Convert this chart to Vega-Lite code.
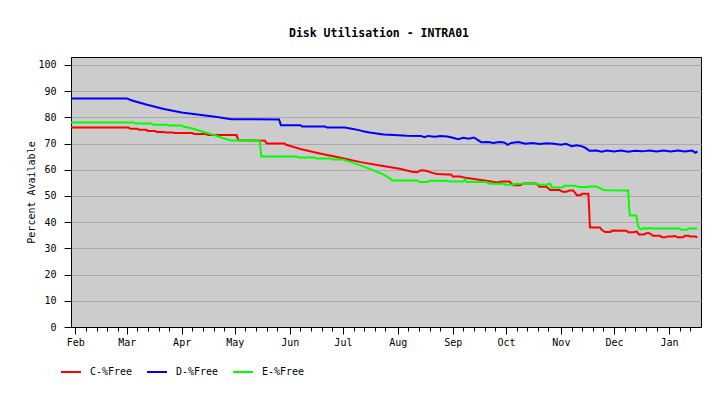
{
"$schema": "https://vega.github.io/schema/vega-lite/v6.json",
"width": 630, "height": 270,
"autosize": {"type": "none"},
"padding": {"left": 71, "top": 57, "right": 20, "bottom": 69},
"background": "white",
"title": {"text": "Disk Utilisation - INTRA01", "font": "DejaVu Sans Mono", "fontSize": 11.5, "fontWeight": "bold", "color": "black", "offset": 18, "dx": -7, "anchor": "middle"},
"config": {"view": {"fill": "#cccccc", "stroke": "black", "strokeWidth": 1}},
"data": {"values": [
{"date":"2004-01-29","series":"C","value":76.1},
{"date":"2004-03-02","series":"C","value":76.1},
{"date":"2004-03-03","series":"C","value":75.6},
{"date":"2004-03-07","series":"C","value":75.6},
{"date":"2004-03-08","series":"C","value":75.2},
{"date":"2004-03-12","series":"C","value":75.2},
{"date":"2004-03-13","series":"C","value":74.8},
{"date":"2004-03-17","series":"C","value":74.8},
{"date":"2004-03-18","series":"C","value":74.4},
{"date":"2004-03-22","series":"C","value":74.4},
{"date":"2004-03-23","series":"C","value":74.2},
{"date":"2004-03-27","series":"C","value":74.2},
{"date":"2004-03-28","series":"C","value":74.0},
{"date":"2004-04-07","series":"C","value":74.0},
{"date":"2004-04-08","series":"C","value":73.6},
{"date":"2004-04-15","series":"C","value":73.6},
{"date":"2004-04-16","series":"C","value":73.2},
{"date":"2004-05-02","series":"C","value":73.2},
{"date":"2004-05-03","series":"C","value":71.2},
{"date":"2004-05-18","series":"C","value":71.1},
{"date":"2004-05-19","series":"C","value":70.0},
{"date":"2004-05-29","series":"C","value":70.0},
{"date":"2004-05-30","series":"C","value":69.5},
{"date":"2004-06-07","series":"C","value":67.9},
{"date":"2004-06-18","series":"C","value":66.2},
{"date":"2004-06-29","series":"C","value":64.7},
{"date":"2004-07-11","series":"C","value":62.9},
{"date":"2004-07-22","series":"C","value":61.6},
{"date":"2004-08-02","series":"C","value":60.4},
{"date":"2004-08-09","series":"C","value":59.2},
{"date":"2004-08-12","series":"C","value":59.0},
{"date":"2004-08-14","series":"C","value":59.8},
{"date":"2004-08-17","series":"C","value":59.6},
{"date":"2004-08-20","series":"C","value":58.9},
{"date":"2004-08-23","series":"C","value":58.4},
{"date":"2004-08-29","series":"C","value":58.2},
{"date":"2004-08-31","series":"C","value":58.2},
{"date":"2004-09-01","series":"C","value":57.4},
{"date":"2004-09-05","series":"C","value":57.4},
{"date":"2004-09-09","series":"C","value":56.8},
{"date":"2004-09-16","series":"C","value":56.2},
{"date":"2004-09-20","series":"C","value":55.8},
{"date":"2004-09-26","series":"C","value":55.1},
{"date":"2004-09-29","series":"C","value":55.5},
{"date":"2004-10-03","series":"C","value":55.5},
{"date":"2004-10-05","series":"C","value":54.1},
{"date":"2004-10-09","series":"C","value":54.1},
{"date":"2004-10-11","series":"C","value":54.7},
{"date":"2004-10-18","series":"C","value":54.7},
{"date":"2004-10-20","series":"C","value":53.5},
{"date":"2004-10-24","series":"C","value":53.5},
{"date":"2004-10-26","series":"C","value":52.3},
{"date":"2004-10-31","series":"C","value":52.3},
{"date":"2004-11-02","series":"C","value":51.6},
{"date":"2004-11-04","series":"C","value":51.6},
{"date":"2004-11-06","series":"C","value":52.1},
{"date":"2004-11-08","series":"C","value":52.1},
{"date":"2004-11-10","series":"C","value":50.3},
{"date":"2004-11-12","series":"C","value":50.3},
{"date":"2004-11-13","series":"C","value":50.8},
{"date":"2004-11-16T12:00:00Z","series":"C","value":50.8},
{"date":"2004-11-17","series":"C","value":44.3},
{"date":"2004-11-17T09:36:00Z","series":"C","value":38.0},
{"date":"2004-11-23","series":"C","value":38.0},
{"date":"2004-11-24","series":"C","value":37.1},
{"date":"2004-11-26","series":"C","value":36.2},
{"date":"2004-11-29","series":"C","value":36.2},
{"date":"2004-11-30","series":"C","value":36.8},
{"date":"2004-12-08","series":"C","value":36.7},
{"date":"2004-12-09","series":"C","value":36.1},
{"date":"2004-12-12","series":"C","value":36.1},
{"date":"2004-12-13","series":"C","value":36.3},
{"date":"2004-12-14","series":"C","value":36.3},
{"date":"2004-12-15","series":"C","value":35.3},
{"date":"2004-12-18","series":"C","value":35.3},
{"date":"2004-12-19","series":"C","value":35.8},
{"date":"2004-12-21","series":"C","value":35.8},
{"date":"2004-12-22","series":"C","value":35.3},
{"date":"2004-12-23","series":"C","value":34.8},
{"date":"2004-12-27","series":"C","value":34.8},
{"date":"2004-12-28","series":"C","value":34.2},
{"date":"2004-12-30","series":"C","value":34.2},
{"date":"2004-12-31","series":"C","value":34.5},
{"date":"2005-01-03","series":"C","value":34.5},
{"date":"2005-01-04","series":"C","value":34.8},
{"date":"2005-01-06","series":"C","value":34.2},
{"date":"2005-01-09","series":"C","value":34.2},
{"date":"2005-01-10","series":"C","value":34.8},
{"date":"2005-01-12","series":"C","value":34.8},
{"date":"2005-01-13","series":"C","value":34.5},
{"date":"2005-01-16","series":"C","value":34.5},
{"date":"2005-01-17","series":"C","value":34.2},
{"date":"2004-01-29","series":"D","value":87.2},
{"date":"2004-03-01","series":"D","value":87.2},
{"date":"2004-03-04","series":"D","value":86.4},
{"date":"2004-03-12","series":"D","value":84.9},
{"date":"2004-03-22","series":"D","value":83.2},
{"date":"2004-04-01","series":"D","value":81.8},
{"date":"2004-04-11","series":"D","value":81.0},
{"date":"2004-04-21","series":"D","value":80.1},
{"date":"2004-04-29","series":"D","value":79.3},
{"date":"2004-05-26","series":"D","value":79.2},
{"date":"2004-05-27","series":"D","value":77.0},
{"date":"2004-06-07","series":"D","value":77.0},
{"date":"2004-06-08","series":"D","value":76.5},
{"date":"2004-06-21","series":"D","value":76.5},
{"date":"2004-06-22","series":"D","value":76.1},
{"date":"2004-07-02","series":"D","value":76.1},
{"date":"2004-07-06","series":"D","value":75.6},
{"date":"2004-07-10","series":"D","value":75.1},
{"date":"2004-07-13","series":"D","value":74.6},
{"date":"2004-07-16","series":"D","value":74.2},
{"date":"2004-07-20","series":"D","value":73.8},
{"date":"2004-07-24","series":"D","value":73.4},
{"date":"2004-07-30","series":"D","value":73.2},
{"date":"2004-08-06","series":"D","value":73.0},
{"date":"2004-08-14","series":"D","value":72.9},
{"date":"2004-08-16","series":"D","value":72.4},
{"date":"2004-08-18","series":"D","value":72.9},
{"date":"2004-08-22","series":"D","value":72.6},
{"date":"2004-08-25","series":"D","value":72.9},
{"date":"2004-08-29","series":"D","value":72.7},
{"date":"2004-09-01","series":"D","value":72.2},
{"date":"2004-09-04","series":"D","value":71.6},
{"date":"2004-09-07","series":"D","value":72.2},
{"date":"2004-09-10","series":"D","value":71.8},
{"date":"2004-09-13","series":"D","value":72.3},
{"date":"2004-09-15","series":"D","value":71.4},
{"date":"2004-09-17","series":"D","value":70.5},
{"date":"2004-09-21","series":"D","value":70.6},
{"date":"2004-09-24","series":"D","value":70.2},
{"date":"2004-09-27","series":"D","value":70.6},
{"date":"2004-09-30","series":"D","value":70.4},
{"date":"2004-10-02","series":"D","value":69.5},
{"date":"2004-10-04","series":"D","value":70.2},
{"date":"2004-10-08","series":"D","value":70.6},
{"date":"2004-10-12","series":"D","value":69.9},
{"date":"2004-10-16","series":"D","value":70.2},
{"date":"2004-10-20","series":"D","value":69.8},
{"date":"2004-10-24","series":"D","value":70.1},
{"date":"2004-10-28","series":"D","value":69.9},
{"date":"2004-11-01","series":"D","value":69.5},
{"date":"2004-11-04","series":"D","value":69.9},
{"date":"2004-11-07","series":"D","value":69.0},
{"date":"2004-11-10","series":"D","value":69.3},
{"date":"2004-11-13","series":"D","value":68.9},
{"date":"2004-11-15","series":"D","value":68.3},
{"date":"2004-11-17","series":"D","value":67.2},
{"date":"2004-11-21","series":"D","value":67.3},
{"date":"2004-11-24","series":"D","value":66.9},
{"date":"2004-11-27","series":"D","value":67.3},
{"date":"2004-12-01","series":"D","value":67.0},
{"date":"2004-12-05","series":"D","value":67.3},
{"date":"2004-12-09","series":"D","value":66.9},
{"date":"2004-12-13","series":"D","value":67.2},
{"date":"2004-12-17","series":"D","value":67.0},
{"date":"2004-12-21","series":"D","value":67.3},
{"date":"2004-12-25","series":"D","value":67.0},
{"date":"2004-12-29","series":"D","value":67.3},
{"date":"2005-01-02","series":"D","value":67.0},
{"date":"2005-01-06","series":"D","value":67.3},
{"date":"2005-01-10","series":"D","value":67.0},
{"date":"2005-01-14","series":"D","value":67.3},
{"date":"2005-01-16","series":"D","value":66.5},
{"date":"2005-01-17","series":"D","value":67.0},
{"date":"2004-01-29","series":"E","value":78.0},
{"date":"2004-03-05","series":"E","value":78.0},
{"date":"2004-03-06","series":"E","value":77.6},
{"date":"2004-03-15","series":"E","value":77.6},
{"date":"2004-03-16","series":"E","value":77.2},
{"date":"2004-03-24","series":"E","value":77.2},
{"date":"2004-03-25","series":"E","value":76.9},
{"date":"2004-04-01","series":"E","value":76.9},
{"date":"2004-04-02","series":"E","value":76.5},
{"date":"2004-04-08","series":"E","value":75.5},
{"date":"2004-04-13","series":"E","value":74.5},
{"date":"2004-04-19","series":"E","value":73.3},
{"date":"2004-04-24","series":"E","value":72.1},
{"date":"2004-04-29","series":"E","value":71.1},
{"date":"2004-05-15","series":"E","value":71.1},
{"date":"2004-05-16","series":"E","value":65.0},
{"date":"2004-06-05","series":"E","value":65.0},
{"date":"2004-06-06","series":"E","value":64.7},
{"date":"2004-06-15","series":"E","value":64.7},
{"date":"2004-06-16","series":"E","value":64.3},
{"date":"2004-06-24","series":"E","value":64.3},
{"date":"2004-06-25","series":"E","value":63.9},
{"date":"2004-07-01","series":"E","value":63.9},
{"date":"2004-07-06","series":"E","value":62.8},
{"date":"2004-07-14","series":"E","value":60.9},
{"date":"2004-07-24","series":"E","value":58.1},
{"date":"2004-07-28","series":"E","value":56.5},
{"date":"2004-07-29","series":"E","value":55.9},
{"date":"2004-08-12","series":"E","value":55.9},
{"date":"2004-08-13","series":"E","value":55.3},
{"date":"2004-08-18","series":"E","value":55.3},
{"date":"2004-08-19","series":"E","value":55.8},
{"date":"2004-08-28","series":"E","value":55.8},
{"date":"2004-08-30","series":"E","value":55.5},
{"date":"2004-09-07","series":"E","value":55.5},
{"date":"2004-09-08","series":"E","value":56.2},
{"date":"2004-09-09","series":"E","value":55.3},
{"date":"2004-09-20","series":"E","value":55.3},
{"date":"2004-09-22","series":"E","value":54.6},
{"date":"2004-09-29","series":"E","value":54.6},
{"date":"2004-10-01","series":"E","value":54.3},
{"date":"2004-10-05","series":"E","value":54.3},
{"date":"2004-10-07","series":"E","value":54.6},
{"date":"2004-10-18","series":"E","value":54.6},
{"date":"2004-10-20","series":"E","value":54.3},
{"date":"2004-10-24","series":"E","value":54.3},
{"date":"2004-10-25","series":"E","value":54.6},
{"date":"2004-10-26","series":"E","value":54.6},
{"date":"2004-10-27","series":"E","value":53.2},
{"date":"2004-11-02","series":"E","value":53.2},
{"date":"2004-11-03","series":"E","value":53.9},
{"date":"2004-11-09","series":"E","value":53.9},
{"date":"2004-11-11","series":"E","value":53.4},
{"date":"2004-11-16","series":"E","value":53.4},
{"date":"2004-11-17","series":"E","value":53.6},
{"date":"2004-11-21","series":"E","value":53.6},
{"date":"2004-11-23","series":"E","value":53.0},
{"date":"2004-11-25","series":"E","value":52.3},
{"date":"2004-11-27","series":"E","value":52.2},
{"date":"2004-12-09","series":"E","value":52.1},
{"date":"2004-12-09T12:00:00Z","series":"E","value":45.4},
{"date":"2004-12-10","series":"E","value":42.5},
{"date":"2004-12-13T12:00:00Z","series":"E","value":42.5},
{"date":"2004-12-14T16:48:00Z","series":"E","value":38.3},
{"date":"2004-12-15T14:24:00Z","series":"E","value":37.5},
{"date":"2004-12-16T14:24:00Z","series":"E","value":37.2},
{"date":"2004-12-18","series":"E","value":37.8},
{"date":"2004-12-19","series":"E","value":37.5},
{"date":"2004-12-21","series":"E","value":37.8},
{"date":"2004-12-23","series":"E","value":37.6},
{"date":"2005-01-07","series":"E","value":37.6},
{"date":"2005-01-08","series":"E","value":37.1},
{"date":"2005-01-11","series":"E","value":37.1},
{"date":"2005-01-12","series":"E","value":37.6},
{"date":"2005-01-17","series":"E","value":37.6}
]},
"mark": {"type": "line", "strokeWidth": 2, "clip": true},
"encoding": {
"x": {"field": "date", "type": "temporal",
 "scale": {"type": "utc", "domain": [{"year":2004,"month":1,"date":29,"hours":13,"minutes":40,"utc":true},{"year":2005,"month":1,"date":19,"hours":1,"minutes":40,"utc":true}], "nice": false},
 "axis": {"title": null, "grid": false, "domainColor": "black", "tickColor": "black",
  "tickSize": {"condition": {"test": "utcdate(datum.value) === 1", "value": 7}, "value": 4},
  "labelExpr": "utcdate(datum.value) === 1 ? utcFormat(datum.value, '%b') : ''",
  "labelOverlap": false, "labelFlush": false, "labelBound": false,
  "labelFont": "DejaVu Sans Mono", "labelFontSize": 10, "labelColor": "black", "labelPadding": 3,
  "values": [
   {"year":2004,"month":2,"date":1,"utc":true},{"year":2004,"month":2,"date":7,"utc":true},{"year":2004,"month":2,"date":13,"utc":true},{"year":2004,"month":2,"date":19,"utc":true},{"year":2004,"month":2,"date":25,"utc":true},
   {"year":2004,"month":3,"date":1,"utc":true},{"year":2004,"month":3,"date":7,"utc":true},{"year":2004,"month":3,"date":13,"utc":true},{"year":2004,"month":3,"date":19,"utc":true},{"year":2004,"month":3,"date":25,"utc":true},
   {"year":2004,"month":4,"date":1,"utc":true},{"year":2004,"month":4,"date":7,"utc":true},{"year":2004,"month":4,"date":13,"utc":true},{"year":2004,"month":4,"date":19,"utc":true},{"year":2004,"month":4,"date":25,"utc":true},
   {"year":2004,"month":5,"date":1,"utc":true},{"year":2004,"month":5,"date":7,"utc":true},{"year":2004,"month":5,"date":13,"utc":true},{"year":2004,"month":5,"date":19,"utc":true},{"year":2004,"month":5,"date":25,"utc":true},
   {"year":2004,"month":6,"date":1,"utc":true},{"year":2004,"month":6,"date":7,"utc":true},{"year":2004,"month":6,"date":13,"utc":true},{"year":2004,"month":6,"date":19,"utc":true},{"year":2004,"month":6,"date":25,"utc":true},
   {"year":2004,"month":7,"date":1,"utc":true},{"year":2004,"month":7,"date":7,"utc":true},{"year":2004,"month":7,"date":13,"utc":true},{"year":2004,"month":7,"date":19,"utc":true},{"year":2004,"month":7,"date":25,"utc":true},
   {"year":2004,"month":8,"date":1,"utc":true},{"year":2004,"month":8,"date":7,"utc":true},{"year":2004,"month":8,"date":13,"utc":true},{"year":2004,"month":8,"date":19,"utc":true},{"year":2004,"month":8,"date":25,"utc":true},
   {"year":2004,"month":9,"date":1,"utc":true},{"year":2004,"month":9,"date":7,"utc":true},{"year":2004,"month":9,"date":13,"utc":true},{"year":2004,"month":9,"date":19,"utc":true},{"year":2004,"month":9,"date":25,"utc":true},
   {"year":2004,"month":10,"date":1,"utc":true},{"year":2004,"month":10,"date":7,"utc":true},{"year":2004,"month":10,"date":13,"utc":true},{"year":2004,"month":10,"date":19,"utc":true},{"year":2004,"month":10,"date":25,"utc":true},
   {"year":2004,"month":11,"date":1,"utc":true},{"year":2004,"month":11,"date":7,"utc":true},{"year":2004,"month":11,"date":13,"utc":true},{"year":2004,"month":11,"date":19,"utc":true},{"year":2004,"month":11,"date":25,"utc":true},
   {"year":2004,"month":12,"date":1,"utc":true},{"year":2004,"month":12,"date":7,"utc":true},{"year":2004,"month":12,"date":13,"utc":true},{"year":2004,"month":12,"date":19,"utc":true},{"year":2004,"month":12,"date":25,"utc":true},
   {"year":2005,"month":1,"date":1,"utc":true},{"year":2005,"month":1,"date":7,"utc":true},{"year":2005,"month":1,"date":13,"utc":true}
  ]}},
"y": {"field": "value", "type": "quantitative",
 "scale": {"domain": [0, 103], "nice": false},
 "axis": {"title": "Percent Available", "titleFont": "DejaVu Sans Mono", "titleFontSize": 10, "titleFontWeight": "normal", "titleColor": "black", "titlePadding": 1,
  "values": [0,10,20,30,40,50,60,70,80,90,100], "grid": true, "gridColor": "#aaaaaa", "gridWidth": 1,
  "domainColor": "black", "tickColor": "black", "tickSize": 7, "labelPadding": 8,
  "labelFont": "DejaVu Sans Mono", "labelFontSize": 10, "labelColor": "black"}},
"color": {"field": "series", "type": "nominal",
 "scale": {"domain": ["C","D","E"], "range": ["#ff0000","#0000ff","#00ff00"]},
 "legend": {"title": null, "orient": "none", "legendX": -11, "legendY": 304, "direction": "horizontal",
  "symbolType": "stroke", "symbolSize": 400, "symbolStrokeWidth": 2, "labelExpr": "datum.label + '-%Free'",
  "labelFont": "DejaVu Sans Mono", "labelFontSize": 10, "labelColor": "black", "labelOffset": 8, "columnPadding": 10}}
}
}
